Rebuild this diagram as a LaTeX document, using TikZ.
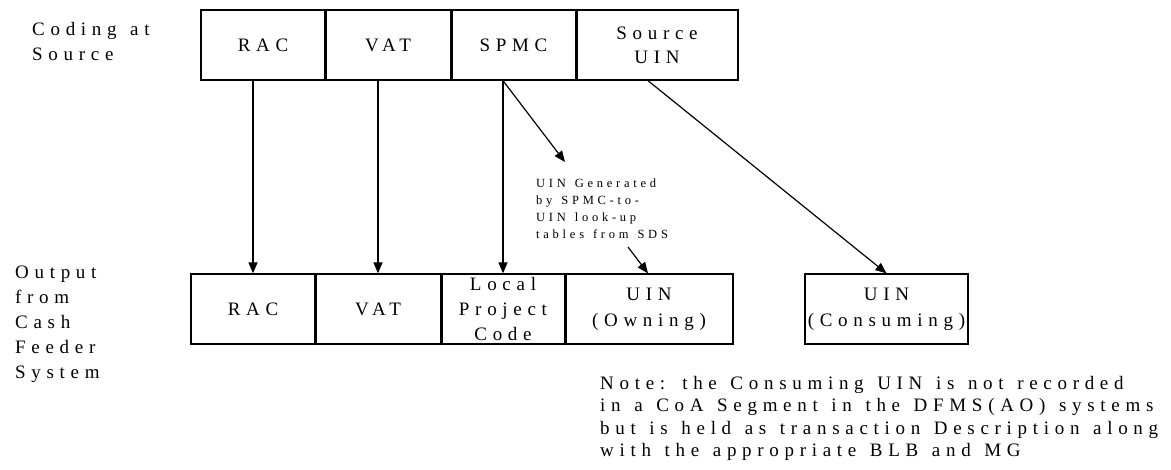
\documentclass[tikz,border=0pt]{standalone}
\usepackage{fontspec}
\setmainfont{Liberation Serif}[LetterSpace=30,WordSpace=1.3]
\usetikzlibrary{arrows.meta}
\begin{document}
\begin{tikzpicture}[x=1pt,y=-1pt,
  box/.style={draw, line width=1.3pt, rectangle, inner sep=0pt, align=center, minimum height=70pt, font=\fontsize{19}{24}\selectfont},
  divider/.style={line width=2.4pt},
  lbl/.style={align=left, inner sep=0pt, anchor=base west, font=\fontsize{19}{25}\selectfont},
  small/.style={align=left, inner sep=0pt, anchor=base west, font=\fontsize{12.5}{17}\selectfont},
  note/.style={align=left, inner sep=0pt, anchor=base west, font=\fontsize{19}{22.5}\selectfont},
  arr/.style={-{Triangle[length=11pt,width=9pt]}, line width=1.2pt}]
\useasboundingbox (0,0) rectangle (1171,469);
% labels (anchor = baseline of last line)
\node[lbl] (lTop) at (32,60) {Coding at\\Source};
\node[lbl] (lBot) at (15,378) {Output\\from\\Cash\\Feeder\\System};
% top boxes
\node[box, minimum width=124pt] (tRAC) at (263,45) {RAC};
\node[box, minimum width=126pt] (tVAT) at (388,45) {VAT};
\node[box, minimum width=125pt] (tSPMC) at (513.5,45) {SPMC};
\node[box, minimum width=162pt] (tSrc) at (657,45) {Source\\UIN};
% bottom boxes
\node[box, minimum width=124pt, font=\fontsize{19}{25}\selectfont] (bRAC) at (253,309) {RAC};
\node[box, minimum width=126pt, font=\fontsize{19}{25}\selectfont] (bVAT) at (378,309) {VAT};
\node[box, minimum width=124pt, font=\fontsize{19}{25}\selectfont] (bLoc) at (503,309) {Local\\Project\\Code};
\node[box, minimum width=168pt, font=\fontsize{19}{26}\selectfont] (bOwn) at (649,309) {UIN\\(Owning)};
\node[box, minimum width=163pt, font=\fontsize{19}{26}\selectfont] (bCons) at (886.5,309) {UIN\\(Consuming)};
% thicker shared edges
\draw[divider] (tRAC.north east) -- (tRAC.south east);
\draw[divider] (tVAT.north east) -- (tVAT.south east);
\draw[divider] (tSPMC.north east) -- (tSPMC.south east);
\draw[divider] (bRAC.north east) -- (bRAC.south east);
\draw[divider] (bVAT.north east) -- (bVAT.south east);
\draw[divider] (bLoc.north east) -- (bLoc.south east);
% label for generated UIN
\node[small] (gen) at (536,238) {UIN Generated\\by SPMC-to-\\UIN look-up\\tables from SDS};
\coordinate (genTip) at (565,162);
\coordinate (genTail) at (628,247);
% note
\node[note] (note) at (600,456.5) {Note: the Consuming UIN is not recorded\\in a CoA Segment in the DFMS(AO) systems\\but is held as transaction Description along\\with the appropriate BLB and MG};
% connectors
\draw[arr] (tRAC.south -| bRAC.north) -- (bRAC.north);
\draw[arr] (tVAT.south -| bVAT.north) -- (bVAT.north);
\draw[arr] (tSPMC.south -| bLoc.north) -- (bLoc.north);
\draw[arr] (tSPMC.south -| bLoc.north) -- (genTip);
\draw[arr] (genTail) -- ([xshift=-1pt]bOwn.north);
\draw[arr] ([xshift=-9pt]tSrc.south) -- (bCons.north);
\end{tikzpicture}
\end{document}
